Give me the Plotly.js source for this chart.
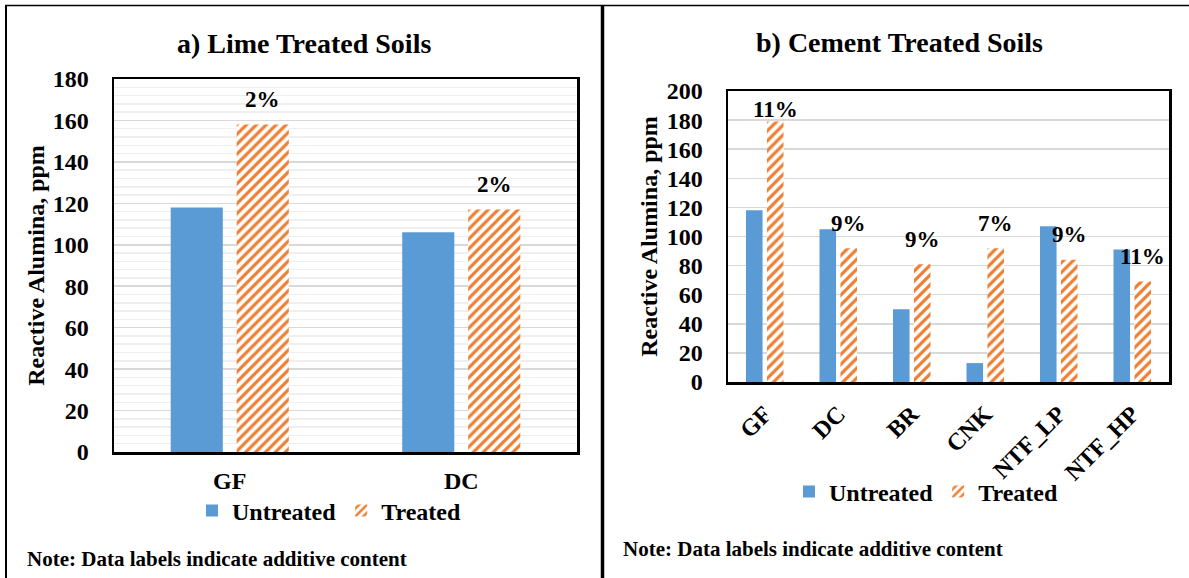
<!DOCTYPE html>
<html>
<head>
<meta charset="utf-8">
<script src="https://cdn.plot.ly/plotly-3.0.1.min.js"></script>
<style>
html,body{margin:0;padding:0;background:#fff;}
#chart{width:1189px;height:578px;}
</style>
</head>
<body>
<div id="chart"></div>
<script>
// ---- Data ----
const limeCategories = ["GF", "DC"];
const limeUntreated = [118, 106];
const limeTreated = [158, 117];
const limeLabels = ["2%", "2%"];

const cementCategories = ["GF", "DC", "BR", "CNK", "NTF_LP", "NTF_HP"];
const cementUntreated = [118, 105, 50, 13, 107, 91];
const cementTreated = [179, 92, 81, 92, 84, 69];
const cementLabels = ["11%", "9%", "9%", "7%", "9%", "11%"];

const seriesNames = ["Untreated", "Treated"];

// ---- Styling ----
const W = 1189, H = 578;
const FONT = "'Liberation Serif', 'Times New Roman', 'DejaVu Serif', Times, serif";
const BLUE = "#5B9BD5";
const ORANGE = "#ED7D31";
const BARGAP = 0.43;
const px = v => v / W;
const py = v => 1 - v / H;
const bold = s => "<b>" + s + "</b>";

const hatch = {shape: "/", fgcolor: ORANGE, bgcolor: "#ffffff", size: 7, solidity: 0.45, fillmode: "replace", fgopacity: 1};

const traces = [
  {type: "bar", x: limeCategories, y: limeUntreated, name: bold(seriesNames[0]), xaxis: "x", yaxis: "y",
   marker: {color: BLUE}, legend: "legend"},
  {type: "bar", x: limeCategories, y: limeTreated, name: bold(seriesNames[1]), xaxis: "x", yaxis: "y",
   marker: {color: ORANGE, pattern: hatch, line: {width: 0}}, legend: "legend"},
  {type: "bar", x: cementCategories, y: cementUntreated, name: bold(seriesNames[0]), xaxis: "x2", yaxis: "y2",
   marker: {color: BLUE}, legend: "legend2"},
  {type: "bar", x: cementCategories, y: cementTreated, name: bold(seriesNames[1]), xaxis: "x2", yaxis: "y2",
   marker: {color: ORANGE, pattern: hatch, line: {width: 0}}, legend: "legend2"}
];

// treated bar centre offset within a category (2 bars per group)
const treatedOffset = (1 - BARGAP) / 4;

const annotations = [];
limeLabels.forEach((t, i) => {
  annotations.push({xref: "x", yref: "y", x: i + treatedOffset, y: limeTreated[i], text: bold(t),
    showarrow: false, yshift: 25, font: {family: FONT, size: 23, color: "#000"}});
});
cementLabels.forEach((t, i) => {
  const shift = cementTreated[i] > 170 ? 12 : 25;
  annotations.push({xref: "x2", yref: "y2", x: i + treatedOffset, y: cementTreated[i], text: bold(t),
    showarrow: false, yshift: shift, font: {family: FONT, size: 23, color: "#000"}});
});
// panel titles
annotations.push({xref: "paper", yref: "paper", x: px(304), y: py(43), xanchor: "center", yanchor: "middle",
  text: bold("a) Lime Treated Soils"), showarrow: false, font: {family: FONT, size: 28, color: "#000"}});
annotations.push({xref: "paper", yref: "paper", x: px(899), y: py(42), xanchor: "center", yanchor: "middle",
  text: bold("b) Cement Treated Soils"), showarrow: false, font: {family: FONT, size: 28, color: "#000"}});
// notes
annotations.push({xref: "paper", yref: "paper", x: px(25), y: py(559), xanchor: "left", yanchor: "middle",
  text: bold("Note: Data labels indicate additive content"), showarrow: false,
  font: {family: FONT, size: 21, color: "#000"}});
annotations.push({xref: "paper", yref: "paper", x: px(621), y: py(549), xanchor: "left", yanchor: "middle",
  text: bold("Note: Data labels indicate additive content"), showarrow: false,
  font: {family: FONT, size: 21, color: "#000"}});

const tickFont = {family: FONT, size: 24, color: "#000"};
const titleFont = {family: FONT, size: 24, color: "#000"};

const layout = {
  width: W, height: H,
  margin: {l: 0, r: 0, t: 0, b: 0},
  paper_bgcolor: "#fff", plot_bgcolor: "#fff",
  font: {family: FONT, color: "#000"},
  barmode: "group", bargap: BARGAP, bargroupgap: 0.21,
  xaxis: {domain: [px(114), px(577)], anchor: "y", showline: true, mirror: true, linecolor: "#000", linewidth: 2.5,
    ticks: "", tickfont: {family: FONT, size: 24, color: "#000"}, ticklabelstandoff: 6,
    tickprefix: "<b>", ticksuffix: "</b>", fixedrange: true},
  yaxis: {domain: [py(452), py(79)], anchor: "x", range: [0, 180], dtick: 20, showline: true, mirror: true,
    linecolor: "#000", linewidth: 2.5, gridcolor: "#d9d9d9", gridwidth: 1.5, zeroline: false,
    minor: {dtick: 4, showgrid: true, gridcolor: "#efefef", gridwidth: 1.5},
    tickfont: tickFont, tickprefix: "<b>", ticksuffix: "</b>", ticks: "", ticklabelstandoff: 18,
    title: {text: bold("Reactive Alumina, ppm"), font: titleFont, standoff: 2}, fixedrange: true},
  xaxis2: {domain: [px(728), px(1169)], anchor: "y2", showline: true, mirror: true, linecolor: "#000", linewidth: 2.5,
    ticks: "", tickangle: -45, tickfont: {family: FONT, size: 24, color: "#000"},
    tickprefix: "<b>", ticksuffix: "</b>", ticklabelstandoff: 6, fixedrange: true},
  yaxis2: {domain: [py(382), py(91)], anchor: "x2", range: [0, 200], dtick: 20, showline: true, mirror: true,
    linecolor: "#000", linewidth: 2.5, gridcolor: "#d9d9d9", gridwidth: 1.5, zeroline: false,
    tickfont: tickFont, tickprefix: "<b>", ticksuffix: "</b>", ticks: "", ticklabelstandoff: 18,
    title: {text: bold("Reactive Alumina, ppm"), font: titleFont, standoff: 3}, fixedrange: true},
  legend: {orientation: "h", x: px(329), xanchor: "center", y: py(511), yanchor: "middle",
    font: {family: FONT, size: 24, color: "#000"}, itemwidth: 30, tracegroupgap: 0, bgcolor: "rgba(0,0,0,0)"},
  legend2: {orientation: "h", x: px(926), xanchor: "center", y: py(492), yanchor: "middle",
    font: {family: FONT, size: 24, color: "#000"}, itemwidth: 30, tracegroupgap: 0, bgcolor: "rgba(0,0,0,0)"},
  annotations: annotations,
  shapes: [
    {type: "line", xref: "paper", yref: "paper", x0: px(5), x1: 1, y0: py(5.5), y1: py(5.5), line: {color: "#000", width: 1.5}},
    {type: "line", xref: "paper", yref: "paper", x0: px(6), x1: px(6), y0: py(5), y1: 0, line: {color: "#000", width: 2}},
    {type: "line", xref: "paper", yref: "paper", x0: px(602.5), x1: px(602.5), y0: py(5), y1: 0, line: {color: "#000", width: 3.5}}
  ],
  showlegend: true
};

Plotly.newPlot("chart", traces, layout, {displayModeBar: false, staticPlot: true});
</script>
</body>
</html>
